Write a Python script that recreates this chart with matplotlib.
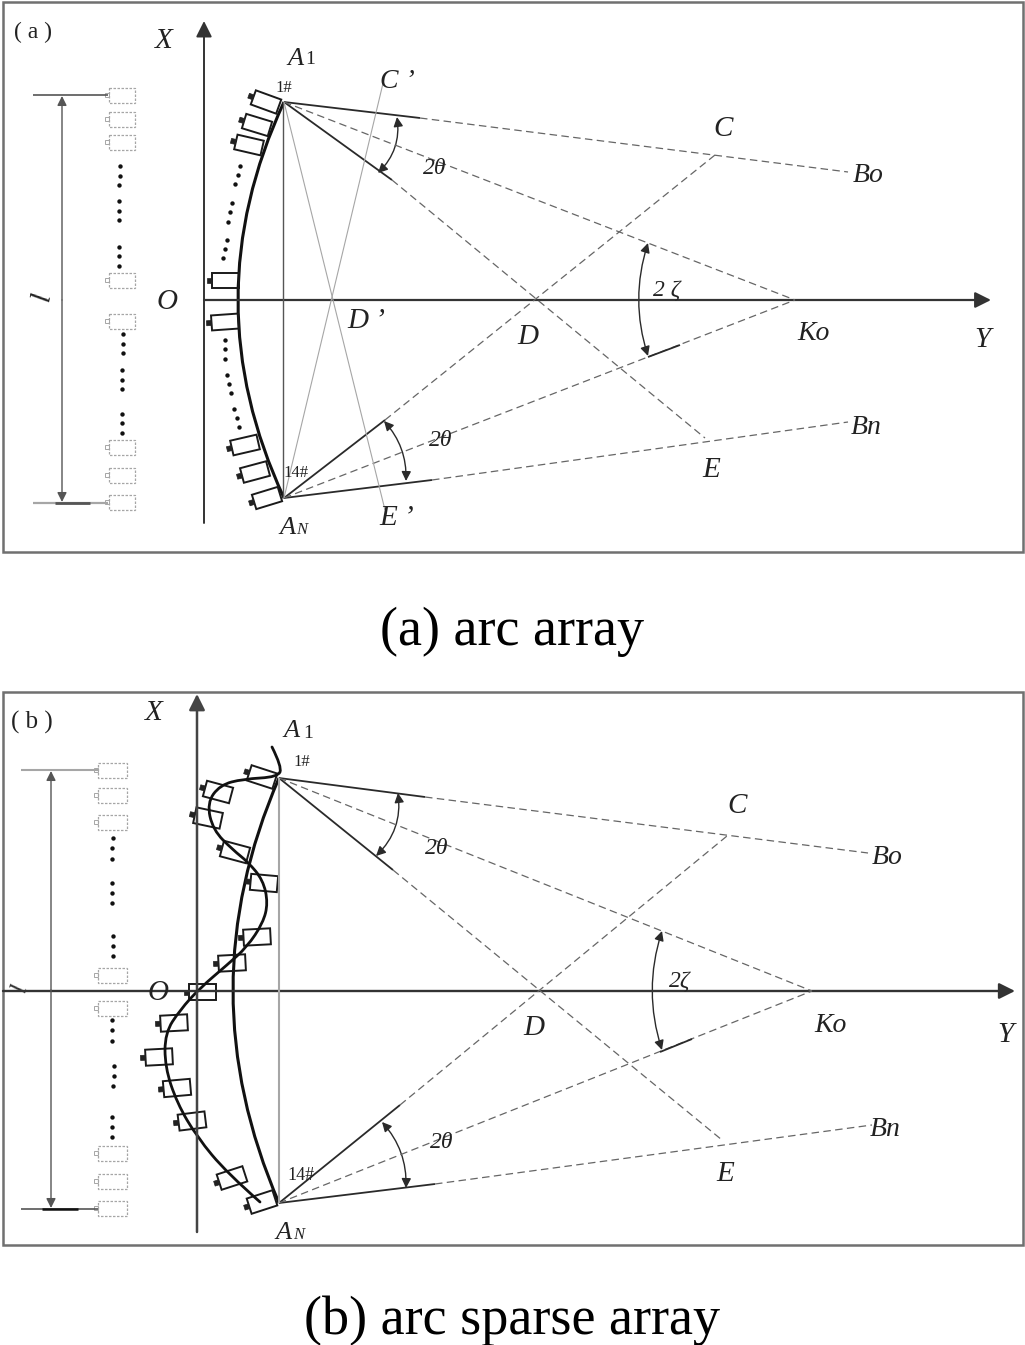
import matplotlib
matplotlib.use("Agg")
import matplotlib.pyplot as plt
from matplotlib.path import Path
from matplotlib.patches import PathPatch, Polygon, Rectangle, FancyArrowPatch
import numpy as np

plt.rcParams["font.family"] = ["Liberation Serif", "DejaVu Serif"]

W, H = 1025, 1345
DARK = "#2a2a2a"
MID = "#555555"
DASH = "#666666"
LIGHT = "#a6a6a6"
DASHES = (0, (6, 3.5))

# ---- panel (a), all in picture pixels
a_frame = (3, 2, 1023, 552)
a_a1 = (284, 102)
a_an = (284, 498)
a_arc_ctrl = (192, 300)
a_sensors = [(266, 102, 20), (257, 125, 17), (249, 145, 13), (225, 280, 0),
             (225, 322, -4), (245, 445, -13), (255, 472, -15), (267, 498, -17)]
a_boxes_y = [95, 119, 142, 280, 321, 447, 475, 502]
a_col_dots_x = [120, 120, 119, 119, 119, 119, 119, 119, 119, 123, 123, 123, 122, 122, 122, 122, 122, 122]
a_col_dots_y = [166, 176, 185, 201, 211, 220, 247, 256, 266, 334, 344, 353, 370, 380, 389, 414, 423, 433]
a_arc_dots_x = [240, 238, 235, 232, 230, 228, 227, 225, 223, 225, 225, 225, 227, 229, 231, 234, 237, 239]
a_arc_dots_y = [166, 175, 184, 203, 212, 222, 240, 249, 258, 340, 349, 359, 375, 384, 393, 409, 418, 427]
# start, end of solid part, end of dashed part
a_rays = [((284, 102), (420, 118), (848, 172)),
          ((284, 102), (392, 180), (705, 438)),
          ((284, 498), (385, 420), (715, 155)),
          ((284, 498), (432, 480), (848, 422))]
a_dashed = [((284, 102), (795, 300)), ((284, 498), (795, 300))]
a_solid_extra = [((648, 357), (680, 345))]
a_grey = [((284, 102), (385, 510)), ((284, 498), (385, 75))]
a_angle_arrows = [((397, 117), (378, 173), -0.25), ((648, 243), (648, 356), 0.16),
                  ((384, 421), (406, 481), -0.2)]
a_labels = [("( a )", 33, 30, 17, "normal"), ("X", 164, 39, 21, "italic"),
            ("A", 295, 57, 19, "italic"), ("1", 310, 58, 14, "normal"),
            ("1#", 284, 86, 12, "normal"), ("C ’", 397, 80, 20, "italic"),
            ("C", 723, 127, 21, "italic"), ("Bo", 868, 173, 20, "italic"),
            ("2θ", 435, 166, 17, "italic"), ("2 ζ", 667, 289, 17, "italic"),
            ("O", 167, 300, 21, "italic"), ("D ’", 366, 319, 21, "italic"),
            ("D", 528, 335, 21, "italic"), ("Ko", 814, 332, 20, "italic"),
            ("Y", 982, 338, 21, "italic"), ("Bn", 866, 426, 20, "italic"),
            ("2θ", 441, 439, 17, "italic"), ("E", 711, 468, 21, "italic"),
            ("14#", 296, 471, 12, "normal"), ("E ’", 397, 516, 21, "italic"),
            ("A", 287, 526, 19, "italic"), ("N", 302, 528, 12, "italic")]

# ---- panel (b)
b_frame = (3, 692, 1023, 1245)
b_a1 = (279, 778)
b_an = (279, 1203)
b_arc_ctrl = (187, 990)
b_wave_x = [272, 282, 278, 243, 220, 207, 213, 233, 248, 263, 268, 263, 247, 227, 200,
            180, 165, 165, 177, 197, 227, 260]
b_wave_y = [747, 767, 777, 779, 785, 803, 830, 850, 862, 880, 903, 923, 947, 965, 988,
            1010, 1033, 1067, 1103, 1137, 1173, 1202]
b_sensors = [(262, 777, 18), (218, 792, 15), (208, 818, 12), (235, 852, 15), (264, 883, 5),
             (257, 937, -3), (232, 963, -3), (202, 992, 0), (174, 1023, -3), (159, 1057, -3),
             (177, 1088, -5), (192, 1121, -7), (232, 1178, -18), (262, 1202, -18)]
b_boxes_y = [770, 795, 822, 975, 1008, 1153, 1181, 1208]
b_col_dots_x = [113, 112, 112, 112, 112, 112, 113, 113, 113, 112, 112, 112, 114, 114, 113, 112, 112, 112]
b_col_dots_y = [838, 848, 859, 883, 893, 903, 936, 946, 956, 1020, 1030, 1041, 1066, 1076, 1086, 1117, 1127, 1137]
b_rays = [((279, 778), (425, 797), (868, 853)),
          ((279, 778), (393, 870), (722, 1140)),
          ((279, 1203), (400, 1105), (727, 836)),
          ((279, 1203), (435, 1184), (872, 1125))]
b_dashed = [((279, 778), (812, 991)), ((279, 1203), (812, 991))]
b_solid_extra = [((660, 1052), (692, 1039))]
b_angle_arrows = [((398, 793), (376, 856), -0.25), ((662, 931), (662, 1050), 0.16),
                  ((382, 1122), (406, 1188), -0.2)]
b_labels = [("( b )", 32, 720, 18, "normal"), ("X", 154, 711, 21, "italic"),
            ("A", 292, 729, 19, "italic"), ("1", 308, 731, 14, "normal"),
            ("1#", 302, 760, 12, "normal"), ("C", 737, 804, 21, "italic"),
            ("Bo", 887, 855, 20, "italic"), ("2θ", 437, 846, 17, "italic"),
            ("2ζ", 680, 980, 17, "italic"), ("O", 158, 991, 21, "italic"),
            ("D", 534, 1026, 21, "italic"), ("Ko", 831, 1024, 20, "italic"),
            ("Y", 1005, 1033, 21, "italic"), ("Bn", 885, 1127, 20, "italic"),
            ("2θ", 442, 1140, 17, "italic"), ("E", 725, 1172, 21, "italic"),
            ("14#", 301, 1174, 13, "normal"), ("A", 283, 1231, 19, "italic"),
            ("N", 299, 1233, 12, "italic")]

captions = ["(a) arc array", "(b) arc sparse array"]
caption_y = [632, 1321]


def line(ax, p, q, color=DARK, lw=1.2, ls="-"):
    ax.plot([p[0], q[0]], [p[1], q[1]], color=color, lw=lw, ls=ls, solid_capstyle="butt")


def arrow(ax, p, q, rad=0.0, scale=15, color=DARK, lw=1.0, style="-|>"):
    ax.add_patch(FancyArrowPatch(p, q, arrowstyle=style, mutation_scale=scale, color=color, lw=lw,
                                 shrinkA=0, shrinkB=0, connectionstyle=f"arc3,rad={rad}"))


def smooth(ax, xs, ys, lw=2.0):
    # quadratic pieces through the midpoints of the read points
    pts = np.column_stack([xs, ys]).astype(float)
    verts = [tuple(pts[0])]
    codes = [Path.MOVETO]
    for i in range(1, len(pts) - 1):
        end = pts[i + 1] if i == len(pts) - 2 else (pts[i] + pts[i + 1]) / 2
        verts += [tuple(pts[i]), tuple(end)]
        codes += [Path.CURVE3, Path.CURVE3]
    ax.add_patch(PathPatch(Path(verts, codes), fill=False, ec="#111111", lw=lw, capstyle="round"))


def sensor(ax, cx, cy, tilt, w=27, h=15):
    a = np.radians(tilt)
    u = np.array([np.cos(a), np.sin(a)])
    v = np.array([-np.sin(a), np.cos(a)])
    c = np.array([cx, cy], dtype=float)
    corners = [c - u * w / 2 - v * h / 2, c + u * w / 2 - v * h / 2,
               c + u * w / 2 + v * h / 2, c - u * w / 2 + v * h / 2]
    ax.add_patch(Polygon(corners, closed=True, fc="none", ec="#1a1a1a", lw=1.4))
    nub = c - u * (w / 2 + 2.5)
    ax.add_patch(Polygon([nub - u * 2.5 - v * 2.5, nub + u * 2.5 - v * 2.5,
                          nub + u * 2.5 + v * 2.5, nub - u * 2.5 + v * 2.5],
                         closed=True, fc="#222222", ec="#222222", lw=0.5))


def left_column(ax, x0, w, ys, h=15):
    for y in ys:
        ax.add_patch(Rectangle((x0, y - h / 2), w, h, fc="none", ec=LIGHT, lw=0.9, ls=(0, (2, 1.2))))
        ax.add_patch(Rectangle((x0 - 4, y - 2), 4, 4, fc="none", ec=LIGHT, lw=0.7))


def panel(ax, frame, a1, an, ctrl, sensors, sensor_h, boxes_y, box_x, box_w, col_x, col_y, rays, dashed,
          extra, arrows, labels):
    x0, y0, x1, y1 = frame
    ax.add_patch(Rectangle((x0, y0), x1 - x0, y1 - y0, fc="white", ec="#707070", lw=1.8))
    # curved receiving array
    ax.add_patch(PathPatch(Path([a1, ctrl, an], [Path.MOVETO, Path.CURVE3, Path.CURVE3]),
                           fill=False, ec="#111111", lw=2.2))
    for s in sensors:
        sensor(ax, *s, h=sensor_h)
    left_column(ax, box_x, box_w, boxes_y)
    ax.scatter(col_x, col_y, s=10, color="#111111", zorder=3, linewidths=0)
    for start, mid, end in rays:
        line(ax, start, mid, color=DARK, lw=1.3)
        line(ax, mid, end, color=DASH, lw=0.9, ls=DASHES)
    for p, q in dashed:
        line(ax, p, q, color=DASH, lw=0.9, ls=DASHES)
    for p, q in extra:
        line(ax, p, q, color=DARK, lw=1.3)
    for p, q, rad in arrows:
        arrow(ax, p, q, rad=rad, scale=14, style="<|-|>")
    for txt, x, y, size, style in labels:
        ax.text(x, y + 2, txt, fontsize=size, style=style, ha="center", va="center", color="#222222")


fig = plt.figure(figsize=(W / 100, H / 100), dpi=100)
ax = fig.add_axes([0, 0, 1, 1])
ax.set_xlim(0, W)
ax.set_ylim(H, 0)
ax.axis("off")

panel(ax, a_frame, a_a1, a_an, a_arc_ctrl, a_sensors, 15, a_boxes_y, 109, 26, a_col_dots_x, a_col_dots_y,
      a_rays, a_dashed, a_solid_extra, a_angle_arrows, a_labels)
ax.scatter(a_arc_dots_x, a_arc_dots_y, s=10, color="#111111", zorder=3, linewidths=0)
line(ax, (283, 102), (283, 498), color=MID, lw=1.0)
for p, q in a_grey:
    line(ax, p, q, color=LIGHT, lw=0.8)
arrow(ax, (204, 523), (204, 21), scale=24, color="#333333", lw=1.4)
arrow(ax, (204, 300), (991, 300), scale=24, color="#333333", lw=1.6)
line(ax, (33, 95), (108, 95), color=MID)
line(ax, (33, 503), (108, 503), color=LIGHT, lw=1.6)
line(ax, (55, 503), (90, 503), color=MID, lw=2.0)
arrow(ax, (62, 300), (62, 96), scale=14, color=MID)
arrow(ax, (62, 300), (62, 502), scale=14, color=MID)
ax.text(42, 297, "l", fontsize=21, style="italic", rotation=80, ha="center", va="center", color="#222222")

panel(ax, b_frame, b_a1, b_an, b_arc_ctrl, b_sensors, 16, b_boxes_y, 98, 29, b_col_dots_x, b_col_dots_y,
      b_rays, b_dashed, b_solid_extra, b_angle_arrows, b_labels)
smooth(ax, b_wave_x, b_wave_y)
line(ax, (279, 778), (279, 1203), color=LIGHT, lw=1.5)
arrow(ax, (197, 1232), (197, 694), scale=24, color="#444444", lw=1.8)
arrow(ax, (3, 991), (1015, 991), scale=24, color="#333333", lw=1.7)
line(ax, (21, 770), (98, 770), color=LIGHT, lw=1.5)
line(ax, (21, 1209), (98, 1209), color=MID)
line(ax, (42, 1209), (78, 1209), color="#111111", lw=1.8)
arrow(ax, (51, 990), (51, 771), scale=14, color=MID)
arrow(ax, (51, 990), (51, 1208), scale=14, color=MID)
ax.text(20, 988, "l", fontsize=19, style="italic", rotation=75, ha="center", va="center", color="#333333")

for cap, y in zip(captions, caption_y):
    ax.text(512, y, cap, fontsize=39, ha="center", va="center", color="black")

fig.savefig("out.png", dpi=100)
